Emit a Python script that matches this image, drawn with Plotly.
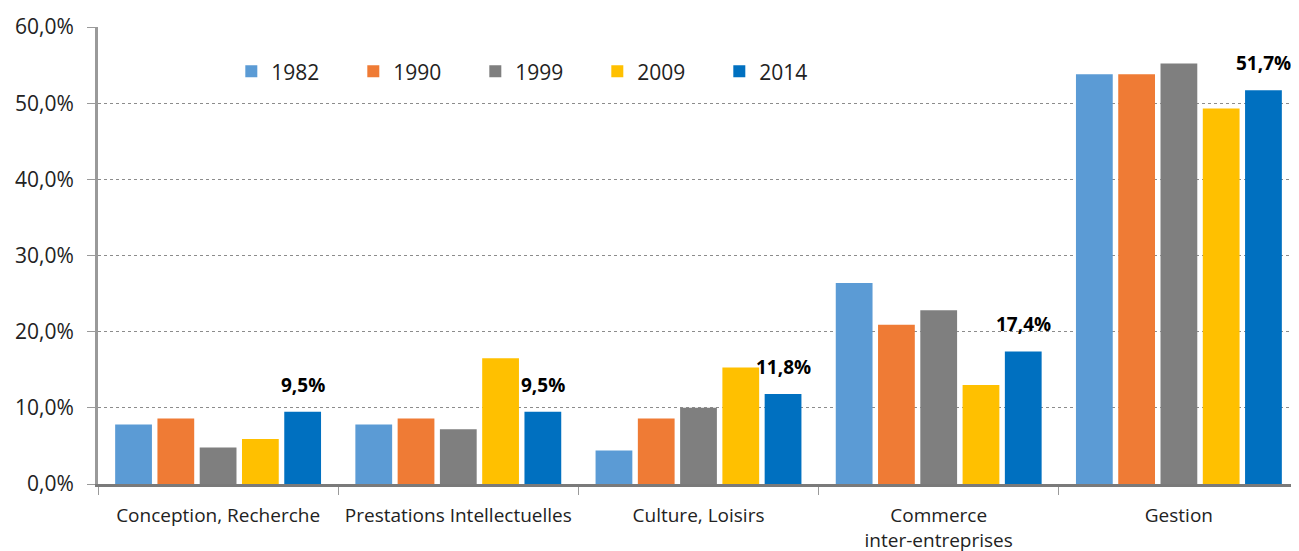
import plotly.graph_objects as go

categories = ["Conception, Recherche", "Prestations Intellectuelles", "Culture, Loisirs",
              "Commerce<br>inter-entreprises", "Gestion"]
years = ["1982", "1990", "1999", "2009", "2014"]
v1982 = [7.8, 7.8, 4.4, 26.4, 53.8]
v1990 = [8.6, 8.6, 8.6, 20.9, 53.8]
v1999 = [4.8, 7.2, 10.0, 22.8, 55.2]
v2009 = [5.9, 16.5, 15.3, 13.0, 49.3]
v2014 = [9.5, 9.5, 11.8, 17.4, 51.7]
colors = ["#5B9BD5", "#EF7B35", "#7F7F7F", "#FFC000", "#0070C0"]
series = [v1982, v1990, v1999, v2009, v2014]

W, H = 1291, 543
ML, MR, MT, MB = 90, 0, 19, 67
BARGAP = 0.12

fig = go.Figure()
for name, vals, col in zip(years, series, colors):
    fig.add_trace(go.Bar(
        x=categories, y=vals, name=name,
        marker=dict(color=col, line=dict(width=0)),
    ))

# data labels for 2014 series, placed above the 5th bar of each group
cat_px = (W - ML - MR) / len(categories)
slot = cat_px * (1 - BARGAP) / len(years)
for c, v in zip(categories, v2014):
    fig.add_annotation(
        x=c, y=v, xref="x", yref="y",
        text=f"{v:.1f}".replace(".", ",") + "%",
        showarrow=False, yanchor="bottom", xanchor="center",
        xshift=2 * slot, yshift=12,
        font=dict(family="Open Sans", size=19, color="#000000", weight="bold"),
    )

fig.update_layout(
    width=W, height=H,
    margin=dict(l=ML, r=MR, t=MT, b=MB),
    plot_bgcolor="white", paper_bgcolor="white",
    barmode="group", bargap=BARGAP, bargroupgap=0.13,
    separators=", ",
    font=dict(family="Open Sans", size=19, color="#222222"),
    legend=dict(orientation="h", x=0.111, y=0.947, xanchor="left", yanchor="top",
                font=dict(size=21, color="#222222"),
                entrywidth=77, entrywidthmode="pixels",
                itemwidth=30, bgcolor="rgba(0,0,0,0)"),
    showlegend=True,
)
fig.update_yaxes(
    range=[0, 60], dtick=10, tickformat=".1f", ticksuffix="%",
    showgrid=True, gridcolor="#8c8c8c", griddash="dot", gridwidth=1,
    showline=True, linecolor="#9a9a9a", linewidth=3,
    ticks="outside", ticklen=8, tickcolor="#9a9a9a", tickwidth=1,
    tickfont=dict(size=21, color="#222222"), ticklabelstandoff=9,
    zeroline=False, automargin=False,
)
fig.update_xaxes(
    showline=True, linecolor="#7a7a7a", linewidth=3,
    ticks="outside", tickson="boundaries", ticklen=8, tickcolor="#9a9a9a",
    tickfont=dict(size=19, color="#222222"), ticklabelstandoff=12,
    automargin=False,
)
fig.write_html("out.html")
